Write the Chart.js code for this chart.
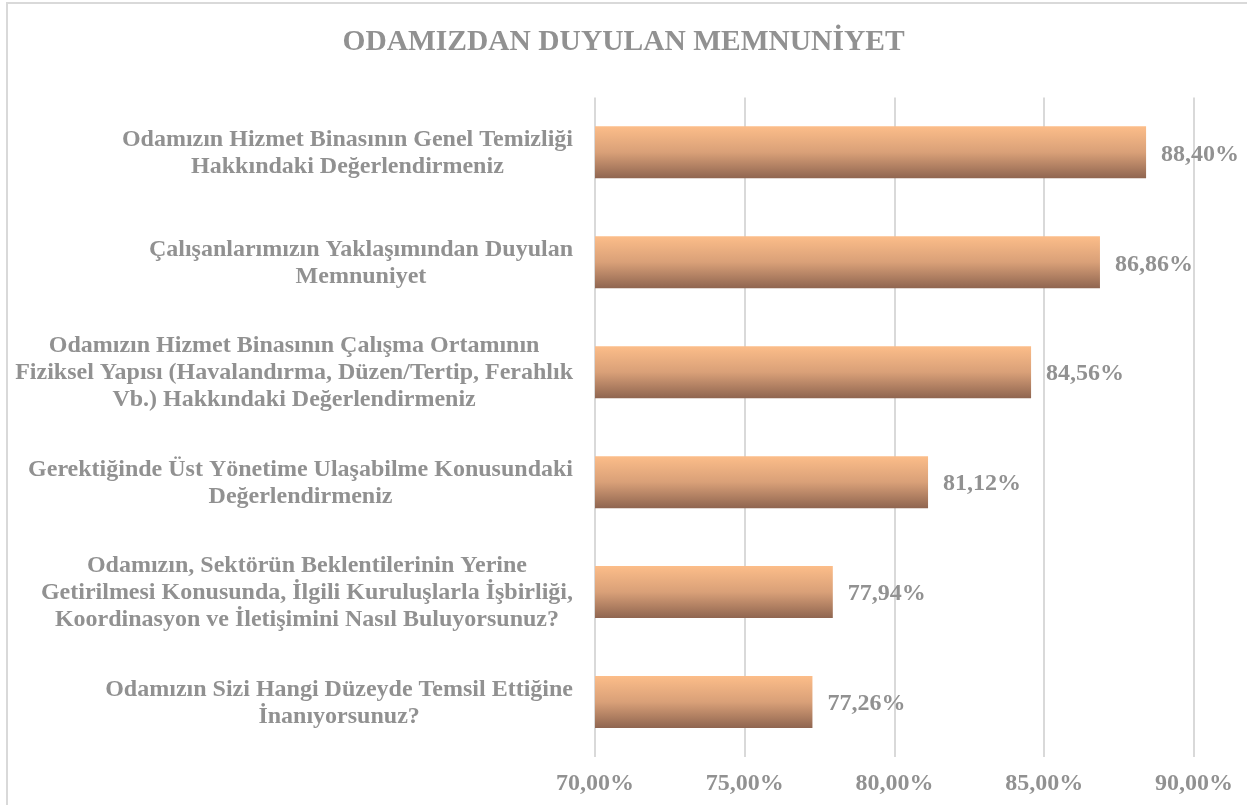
<!DOCTYPE html>
<html>
<head>
<meta charset="utf-8">
<script src="https://cdn.jsdelivr.net/npm/chart.js@4"></script>
<style>
  html, body { margin: 0; padding: 0; background: #fff; overflow: hidden; }
  .frame {
    position: absolute; left: 6px; top: 2px; width: 1400px; height: 900px;
    border-left: 2px solid #d9d9d9; border-top: 2px solid #d9d9d9;
  }
  .wrap { position: absolute; left: 0; top: 0; width: 1247px; height: 805px; }
</style>
</head>
<body>
<div class="frame"></div>
<div class="wrap"><canvas id="chart"></canvas></div>
<script>
// Survey items (each label split into its display lines)
const categories = [
  ['Odamızın Hizmet Binasının Genel Temizliği', 'Hakkındaki Değerlendirmeniz'],
  ['Çalışanlarımızın Yaklaşımından Duyulan', 'Memnuniyet'],
  ['Odamızın Hizmet Binasının Çalışma Ortamının', 'Fiziksel Yapısı (Havalandırma, Düzen/Tertip, Ferahlık', 'Vb.) Hakkındaki Değerlendirmeniz'],
  ['Gerektiğinde Üst Yönetime Ulaşabilme Konusundaki', 'Değerlendirmeniz'],
  ['Odamızın, Sektörün Beklentilerinin Yerine', 'Getirilmesi Konusunda, İlgili Kuruluşlarla İşbirliği,', 'Koordinasyon ve İletişimini Nasıl Buluyorsunuz?'],
  ['Odamızın Sizi Hangi Düzeyde Temsil Ettiğine', 'İnanıyorsunuz?']
];

// Satisfaction in percent
const satisfaction = [88.40, 86.86, 84.56, 81.12, 77.94, 77.26];

// X axis range
const axisMin = 70;
const axisMax = 90;
const axisStep = 5;

const TEXT_COLOR = '#919191';
const FONT = '"Liberation Serif", "Times New Roman", serif';
const BAR_PCT = 0.473;

const fmtPct = v => v.toFixed(2).replace('.', ',') + '%';

// bar gradient from light orange (top) to brown (bottom)
function barGradient(c) {
  const chart = c.chart;
  const area = chart.chartArea;
  if (!area) return '#F4B183';
  const y = chart.scales.y.getPixelForValue(c.dataIndex);
  const h = (area.bottom - area.top) / categories.length * BAR_PCT;
  const g = chart.ctx.createLinearGradient(0, y - h / 2, 0, y + h / 2);
  g.addColorStop(0, '#FCBD89');
  g.addColorStop(0.5, '#D9A078');
  g.addColorStop(1, '#8F6550');
  return g;
}

// y labels: block right-aligned to the axis, lines centred within the block
const yLabelPlugin = {
  id: 'yLabels',
  afterDraw(chart) {
    const ctx = chart.ctx;
    const yScale = chart.scales.y;
    const right = chart.chartArea.left - 22;
    const lineH = 27;
    ctx.save();
    ctx.font = 'bold 24px ' + FONT;
    ctx.fillStyle = TEXT_COLOR;
    ctx.textAlign = 'center';
    ctx.textBaseline = 'middle';
    categories.forEach((lines, i) => {
      const w = Math.max(...lines.map(l => ctx.measureText(l).width));
      const cx = right - w / 2;
      const cy = yScale.getPixelForValue(i) + 1;
      const y0 = cy - (lines.length - 1) * lineH / 2;
      lines.forEach((l, k) => ctx.fillText(l, cx, y0 + k * lineH));
    });
    ctx.restore();
  }
};

// value labels at the end of each bar
const valueLabelPlugin = {
  id: 'valueLabels',
  afterDatasetsDraw(chart) {
    const ctx = chart.ctx;
    const meta = chart.getDatasetMeta(0);
    ctx.save();
    ctx.font = 'bold 24px ' + FONT;
    ctx.fillStyle = TEXT_COLOR;
    ctx.textAlign = 'left';
    ctx.textBaseline = 'middle';
    meta.data.forEach((bar, i) => {
      ctx.fillText(fmtPct(satisfaction[i]), bar.x + 15, bar.y + 2);
    });
    ctx.restore();
  }
};

new Chart(document.getElementById('chart'), {
  type: 'bar',
  data: {
    labels: categories,
    datasets: [{
      data: satisfaction,
      backgroundColor: barGradient,
      borderWidth: 0,
      categoryPercentage: 1,
      barPercentage: BAR_PCT
    }]
  },
  options: {
    indexAxis: 'y',
    responsive: true,
    maintainAspectRatio: false,
    animation: false,
    layout: { padding: 0 },
    plugins: {
      legend: { display: false },
      tooltip: { enabled: false },
      title: {
        display: true,
        text: 'ODAMIZDAN DUYULAN MEMNUNİYET',
        color: TEXT_COLOR,
        font: { family: FONT, size: 29.5, weight: 'bold' },
        padding: { top: 25, bottom: 37 }
      }
    },
    scales: {
      x: {
        min: axisMin,
        max: axisMax,
        border: { display: false },
        grid: { color: '#d9d9d9', lineWidth: 2, drawTicks: false },
        ticks: {
          stepSize: axisStep,
          padding: 12,
          color: TEXT_COLOR,
          font: { family: FONT, size: 24, weight: 'bold' },
          callback: v => fmtPct(v)
        },
        afterFit: s => {
          s.height = 48;
          // the end labels may overhang the plot area
          s.paddingLeft = 0;
          s.paddingRight = 0;
        }
      },
      y: {
        border: { display: false },
        grid: { display: false, drawTicks: false },
        ticks: { display: false },
        afterFit: s => { s.width = 595; }
      },
      // empty right-hand axis that only reserves room for the value labels
      yRight: {
        type: 'category',
        axis: 'y',
        position: 'right',
        border: { display: false },
        grid: { display: false, drawTicks: false },
        ticks: { display: false },
        afterFit: s => { s.width = 53; }
      }
    }
  },
  plugins: [yLabelPlugin, valueLabelPlugin]
});
</script>
</body>
</html>
